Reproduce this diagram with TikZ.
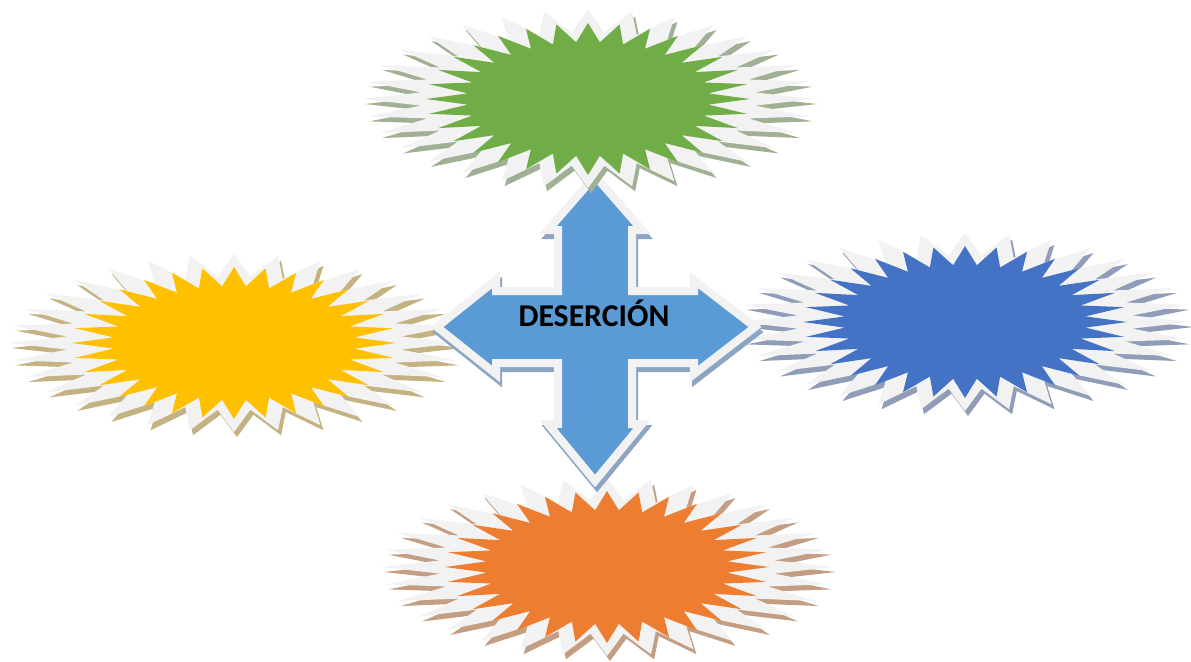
\documentclass[tikz,border=0pt]{standalone}
\usepackage{fontspec}
\setmainfont{Carlito}
\usetikzlibrary{calc}

\definecolor{grisborde}{RGB}{242,242,242}
\definecolor{verde}{RGB}{112,173,71}
\definecolor{verdesombra}{RGB}{160,176,148}
\definecolor{amarillo}{RGB}{255,192,0}
\definecolor{amarillosombra}{RGB}{196,178,130}
\definecolor{azul}{RGB}{68,114,196}
\definecolor{azulsombra}{RGB}{143,157,184}
\definecolor{naranja}{RGB}{237,125,49}
\definecolor{naranjasombra}{RGB}{196,158,130}
\definecolor{celeste}{RGB}{91,155,213}
\definecolor{celestesombra}{RGB}{140,165,194}

\tikzset{every picture/.style={line width=0.75pt}}
\tikzset{
  borde/.style={fill=grisborde},
  rotulo/.style={font=\fontsize{23.8}{28}\selectfont\bfseries, text=black, inner sep=0.75pt},
}

% star of 32 points: #1 centre, #2 fill, #3 shadow
\newcommand{\estrella}[3]{%
  \fill[#3, shift={($(#1)+(3,5)$)}] (0:226 and 89) \foreach \k in {0,...,31}{ -- (\k*11.25:226 and 89) -- (\k*11.25+5.625:168 and 67)} -- cycle;
  \fill[borde, shift={(#1)}] (0:226 and 89) \foreach \k in {0,...,31}{ -- (\k*11.25:226 and 89) -- (\k*11.25+5.625:168 and 67)} -- cycle;
  \fill[#2, shift={(#1)}] (0:162 and 76) \foreach \k in {0,...,31}{ -- (\k*11.25:162 and 76) -- (\k*11.25+5.625:121 and 57)} -- cycle;
}

% quad arrow outline
\def\flecha{(0,-151) -- (47,-97) -- (37,-97) -- (37,-36) -- (99,-36) -- (99,-47) -- (160,0) -- (99,47) -- (99,36) -- (37,36) -- (37,97) -- (47,97) -- (0,154) -- (-47,97) -- (-37,97) -- (-37,36) -- (-99,36) -- (-99,47) -- (-158,0) -- (-99,-47) -- (-99,-36) -- (-37,-36) -- (-37,-97) -- (-47,-97) -- cycle}

\begin{document}
\begin{tikzpicture}[x=0.75pt,y=0.75pt,yscale=-1,xscale=1]
\useasboundingbox (0,0) rectangle (1191,661);

\coordinate (amarillo) at (234,343);
\coordinate (azul) at (965,322);
\coordinate (naranja) at (607,567);
\coordinate (verde) at (588,99);
\coordinate (cruz) at (595,327);

%Shape: Stars
\estrella{amarillo}{amarillo}{amarillosombra}
\estrella{azul}{azul}{azulsombra}
\estrella{naranja}{naranja}{naranjasombra}

%Shape: Quad Arrow
\filldraw[fill=celestesombra, draw=celestesombra, line width=6pt, shift={($(cruz)+(2,5)$)}] \flecha;
\filldraw[fill=celeste, draw=grisborde, line width=6pt, shift={(cruz)}] \flecha;

\estrella{verde}{verde}{verdesombra}

% Text Node
\node[rotulo, anchor=base] (desercion) at (594,326) {DESERCIÓN};

\end{tikzpicture}
\end{document}
